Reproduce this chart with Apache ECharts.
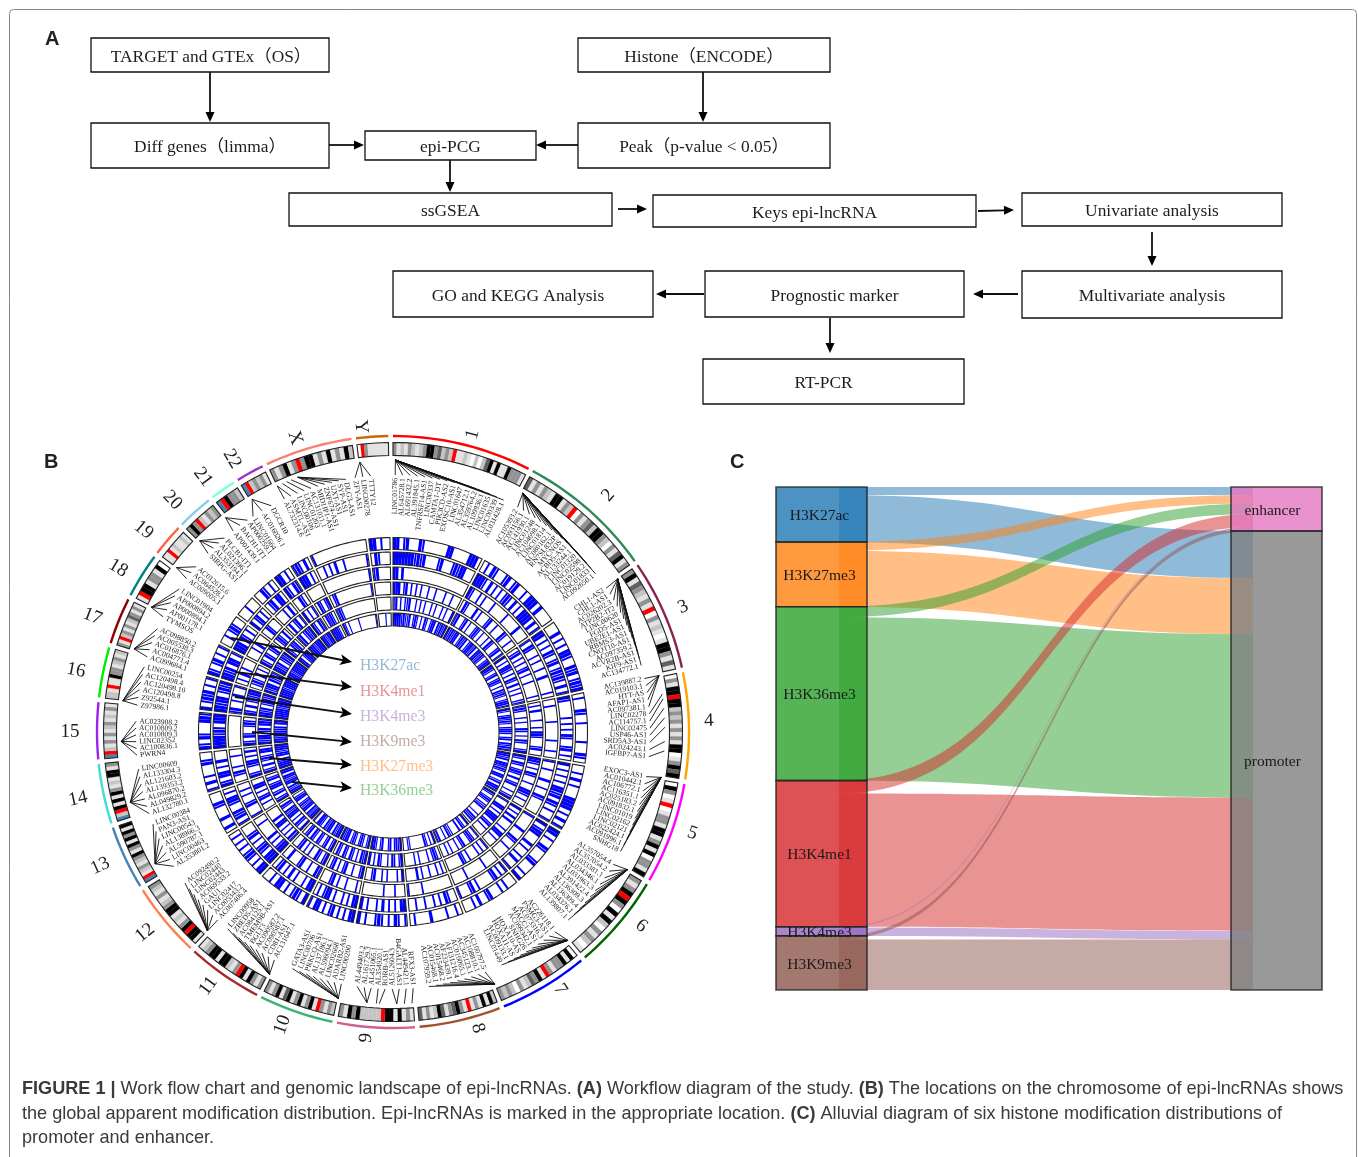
<!DOCTYPE html>
<html><head><meta charset="utf-8"><style>html,body{margin:0;padding:0;background:#fff}#c{width:1358px;height:1157px}</style>
<script src="https://cdn.jsdelivr.net/npm/echarts@6/dist/echarts.min.js"></script></head><body><div id="c"></div>
<script>
// ---------- Panel A ----------
const flowSteps = ['TARGET and GTEx（OS）','Histone（ENCODE）','Diff genes（limma）','epi-PCG','Peak（p-value < 0.05）','ssGSEA','Keys epi-lncRNA','Univariate analysis','GO and KEGG Analysis','Prognostic marker','Multivariate analysis','RT-PCR'];
// ---------- Panel B ----------
const chromNames = ['1','2','3','4','5','6','7','8','9','10','11','12','13','14','15','16','17','18','19','20','21','22','X','Y'];
const chromSizes = [248,242,198,190,181,170,159,145,138,133,135,133,114,107,101,90,83,80,58,64,46,50,156,57];
const chromBands = ['3121321235534232R1121020245151153331','413132155132R03134255320314513','351432131R0312101553141','03155R5523231313155013545','05301R01331551351503315','3135R53051520313201','05153313R153421302323','2515131R1354314521314','1315155R2222253513','2313R15315315415313','313515R31255155321','155R53121553213123','BR1231235135153515','B2R5151531215513','BR2131312312131','221R1153312312','31R23131243131','1R55133150','11R121121','353R21323','BR5332','BR23231','313513R355131513152','0R3111111'];
const trackNames = ['H3K27ac','H3K4me1','H3K4me3','H3K9me3','H3K27me3','H3K36me3'];
const trackH3K27ac = ['##.|#...#|.......##.....###.','.|.#|..|#.|#..|.###.#....','...#.|.|.##|..#|#.|#|#','.|...#|..|.....|...#|.','..|.#.|...####.|.#.|','##.|..#|...|#...|.#','...|.|...#|..#.|...','.|..|....#....|.','|.|#.|.|#|..|.#','##.|.|.#|.|.##.|','#.|#|.|.##.|..','##.|.|#|.|.|.|.','.#..#...|#...','|.#.|...#|..','#|.#|...##|','#.|#|#.|.|','#|.|#.|.|','..|.|#|..','...|...','..#|.|.','##.|.','|#|.#.','|.................','##.|..'];
const trackH3K4me1 = ['#######|#|#....|#...|#|##...','###|.#.|.|.|#|.#.|.####.#.|','##.|.|.#|.|#.|#|#|.#.|','#|.....|.|.|.#|..|#.|.','#.|.|.|.##|#.#|.|..|','#.|##...#.|..|.#..|','|.|.#|.....|.#|...|','..|#.|.|..|..|..','##.|.|.#.|..|.#','##.|.|..|.##|.|.','##.|..|.#.|.#|.','###.|#|.|.#|...','|.#|#..|##.|.','#|.##.|.#...','####|#|.###','##|##.|#|#','##|#.##.|','###.#|.|.','#.|#.|.','.|#.##.','#|.#|','###.|.','..|.|.#..|.......|','.#|...'];
const trackH3K4me3 = ['##.#........................','#|..|.|...|.....|.....#....','|.#|..|.|..|..#.....|.','..|.....|......|...|..','|..|...#..|..#|.....','|.....#...#|..|....','.....|.......|.....','..........|....|','...|...|.......','.|...|..|.#|...','|#..|..#|...#..','##|.|.#.....|..','|...#|..|.|..','..|#.|...|..','...........','|#..|.#..|','.|.#.|...','...|.#...','..#|...','...|.#.','..#|.','......','..................|','|#....'];
const trackH3K9me3 = ['###.|#.|.|.|..|..|...|..|...','.#|...#.|...|#..|...#|..|..','.|#.|.|.|#.|..|.....|.','.|.#...|..|.##|...|#..','##|.|.#|..|..##|.|..','#.|.#.#...|.##.|...','|.|.|...|.|#......','.|.|..|..|.#....','#.|...|.|..#|..','#|..|..#|.|.#|.','#|.|#..|.|.#|..','|#.|.|.##.#....','..|.#|.|.##..','#|..|##.|.#.','#|.#|..|#|.','#|.#.|#|##','.|#|.#.|.','#|.#|.|#.','.|#|.#.','.#.|#.|','#.|.|','.#|.|#','.|#...............|','......'];
const trackH3K27me3 = ['|#.|.||#..|.|.|..|.|..|.|..#','|#..|#.|..|#|.|..|.#|..|#.|','#.|.##|.|.#|.#.|.|..||','|#|..|.|..#|.|.#|..|#','#|.#|.|#|.#.|#..|.|#','|..##.|.###.|#.|...','|.|#|..#|.|..|.|..','.|#|.|...|.|....','#|.|#.|..|#.|.#','#|#.|.|#.|#.|#.','#|.#|.|#.|#.#|.','#.|#.|.##|#.|#.','#|.#|.##|.#|.','#|.#.|#|.##.','#|##.|#.##|','##|#.|##|#','#|##.#|#|','##|#.|#|#','#|.#|#.','|#.|#|#','#|.#|','.#|#|.','|#|...............','......'];
const trackH3K36me3 = ['####|#||#.|#|.|.#|.|##.#|#|#','#|#|##.|#|#.|##|#.##|#|.|##','##|.|#.|#|.|.#|#|.|##|','#|.|#|#|.|##|.|#.#|#|','##|#.##|#|.##.|#.##|','#|.|#|.||#...|.#|#.','#.|#.#...||#.|..#|','#.|.|#.......||..','#|#|.#|..#|.|##','#|.|#|.|#|.##|#','##|#.##|#.|##.|','##|#.##|#|.##|.','##|#.##|##.##','###|#.##|###','##|###|#.##','#####|####','####|####','###|#####','##.|###','###|###','##|##','####|.','#|.|.....|.........|','...|..'];
const trackHits = [trackH3K27ac,trackH3K4me1,trackH3K4me3,trackH3K9me3,trackH3K27me3,trackH3K36me3];
const geneLabels = [
['LINC01786','AL645728.1','AL691432.2','AL391845.1','TNFRSF14-AS1','LINC00337','CAMTA1-DT','PIK3CD-AS2','EXOSC10-AS1','LINC01647','AL354712.1','AL359764.2','AL109936.1','LINC01635','LINC00339','AL031428.1'],
['AC105393.2','AC093156.1','AC141930.1','LINC01248','AC104698.1','LINC01814','AC080162.1','RN7SL832P','MYCNOS','ACBD5-AS1','AL133244.1','LINC01320','LINC02598','AC019129.2','LINC01833','AC092650.1'],
['CHL1-AS2','CHL1-AS1','AC026202.3','ATP2B2-IT2','LINC00620','FGD5-AS1','UBE2E1-AS1','RBMS3-AS1','CNOT10-AS1','AC097359.2','ACVR2B-AS1','KIF9-AS1','AC134772.1'],
['AC139887.2','AC019103.1','HTT-AS','AFAP1-AS1','AC097381.1','LINC02278','AC114757.1','LINC02475','USP46-AS1','SRD5A3-AS1','AC024243.1','IGFBP7-AS1'],
['EXOC3-AS1','AC010442.1','AC106772.1','AC116351.1','AC025183.2','AC091832.1','LINC01019','LINC02162','LINC02121','AC022424.1','AC091996.1','SNHG18'],
['AL357054.4','AL357054.2','AL033381.1','AL034346.1','AL031963.3','AL391422.4','AL136309.3','AL136309.4','AL034376.1','AL139807.1'],
['AC226118.1','PSMG3-AS1','AC073316.3','MACC1-AS1','AC099342.1','SNHG26','HOXA10-AS','HOXA11-AS','AC009133.1','LINC01449'],
['AC100797.5','AC108810.1','AC345123.1','AC016065.1','AF131216.4','AF233439.1','AC015468.2','AC015468.1','AC107959.2'],
['RFX3-AS1','AL449421.1','B4GALT1-AS1','AL512604.3','RORB-AS1','AL354920.1','AL451065.1','AL161729.3','AL449403.2'],
['LINC00200','ADARB2-AS1','LINC02668','AL596094.1','AL137186.1','PRKCQ-AS1','LINC00706','GATA3-AS1'],
['AC131647.1','CD81-AS1','AC090587.1','AC090587.2','BGLT3','TMEM9B-AS1','AC084125.1','ZBED5-AS1','LINC00958'],
['AC007406.4','AC005343.2','LINC02417','GAU1','AC069533.2','LINC02443','LINC02440','AC092490.2'],
['AL353801.2','LINC00463','AL590787.1','AL138966.3','LINC00543','PAN3-AS1','LINC00384'],
['AL132780.1','AL049829.2','AL096870.2','AL139353.2','AL121603.2','AL133304.3','LINC00609'],
['PWRN4','AC100836.1','LINC02352','AC010809.3','AC010809.2','AC023908.2'],
['Z97986.1','Z92544.1','AC120498.8','AC120498.10','AC120498.4','LINC00254'],
['AC099684.1','AC004771.4','AC016876.1','AC005538.3','AC098850.2'],
['TYMSOS','AP001178.1','AP000894.1','AP000894.2','LINC01904'],
['AC009005.1','AC064528.1','AC012615.6'],
['SIRPG-AS1','AL353194.1','AL021396.1','PLCB1-IT1'],
['AP001439.1','BACH1-IT1','AP000259.1'],
['LINC01664','AC016026.1','DGCR10'],
['AL732314.6','ASMTL-AS1','LINC00106','LINC01203','AC131011.1','MID1IP1-AS1','ZNF674-AS1','UXT-AS1','SYP-AS1','DLG3-AS1'],
['ZFY-AS1','LINC00278','TTTY12']];
// genomic anchor angle of each label's leader (one value = shared by the chromosome's labels)
const geneAnchors = [[0.5],[28.5],[55.7],[78,78,78,78,78,82,83,85,87,89,92,94],[99.6],[120.4],[140],[158],[176,177.6,179.2,179.2,182.9,183.5,185.5,185.5,185.5],[191.6],[207],[223],[241],[255],[268],[276.6],[287.8],[297.3],[307.2],[314.7],[322],[328.8],[334.8,334.8,336,337,338,339.5,339.5,339.5,339.5,339.5],[353]];
// ---------- Panel C ----------
const histoneNames = ['H3K27ac','H3K27me3','H3K36me3','H3K4me1','H3K4me3','H3K9me3'];
const enhancerCounts = [8,8.5,10.5,13,0.5,3.5];
const promoterCounts = [47,56,163,133,8.5,50.5];
const legendOrder = ['H3K27ac','H3K4me1','H3K4me3','H3K9me3','H3K27me3','H3K36me3'];

// ---------- layout and style ----------
const SERIF='"Liberation Serif","Noto Sans CJK SC",serif';
const flowBoxes=[[91,38,329,72],[578,38,830,72],[91,123,329,168],[365,131,536,160],[578,123,830,168],[289,193,612,226],[653,195,976,227],[1022,193,1282,226],[393,271,653,317],[705,271,964,317],[1022,271,1282,318],[703,359,964,404]];
const flowTextDx=[1,0,0,0,0,0,0,0,-5,0,0,-10];
const flowArrows=[[210,72,210,122],[703,72,703,122],[329,145,364,145],[578,145,536,145],[450,160,450,192],[618,209,647,209],[978,211,1014,210],[1152,232,1152,266],[1018,294,973,294],[704,294,656,294],[830,318,830,353]];
const ringArrows=[[231,638,352,662],[235,672,352,687],[235,697,352,714],[252,732,352,742],[269,758,352,765],[292,782,352,788]];
const legendY=[666,692,717,742,767,791];
const legendColors=['#8fbbd9','#eb9394','#c9b3de','#c5aba5','#ffbf87','#95cf95'];
const arcColors=['#ff0000','#2e8b57','#8b2252','#ffa500','#ff00ff','#006400','#0000ff','#a0522d','#cd6090','#3cb371','#a52a2a','#ff7f50','#4682b4','#40e0d0','#a020f0','#00ee00','#8b0000','#008080','#ff6347','#87ceeb','#7fffd4','#9932cc','#fa8072','#cd6600'];
const bandFill={'0':'#ffffff','1':'#e2e2e2','2':'#c4c4c4','3':'#929292','4':'#606060','5':'#000000','R':'#ff0000','B':'#4682b4'};
const nodeColors=['#1f77b4','#ff7f0e','#2ca02c','#d62728','#9467bd','#8c564b','#e377c2','#7f7f7f'];
const labelAngles=[[0.5,25.5],[29,52],[56,75],[78,95.5],[100,117.7],[121,137],[141,155],[159,172],[175.5,188],[191.6,203],[207.5,220],[223,234],[238.5,249],[251.5,261.7],[264.8,272.4],[276,284.7],[287,293.7],[296.6,303.8],[306.6,310],[314,319],[321.5,325.5],[327,331.7],[335,349.4],[351.5,355]];
const namePlace=[[308,15],[320,42.3],[316,66.7],[316,88],[316,108.7],[315,128],[307,147],[308,164],[307,185],[313,200.7],[314,216],[319,231],[322,245.4],[322,258],[323,270],[323,281],[322,291],[320,300.8],[321,309],[320,316.4],[318,323.3],[317,329.5],[310,341.6],[307,354]];
const GAP=0.9;
const genome=chromSizes.reduce((a,b)=>a+b,0);
const perMb=(360-GAP*24)/genome;
const chromStart=[];chromSizes.reduce((s,v,i)=>{chromStart[i]=s;return s+v*perMb+GAP;},0);
const spanOf=i=>chromSizes[i]*perMb;
const trackR=[[182.5,194.5],[167.5,180],[152.5,165],[137.5,150],[122,135],[106,119]];

function sector(api,r0,r1,a0,a1){
  const n=Math.max(1,Math.ceil((a1-a0)/1.5)),pts=[];
  for(let k=0;k<=n;k++)pts.push(api.coord([r1,a0+(a1-a0)*k/n]));
  for(let k=n;k>=0;k--)pts.push(api.coord([r0,a0+(a1-a0)*k/n]));
  return pts;
}
function polarLayer(records,z,draw){
  return {type:'custom',coordinateSystem:'polar',polarIndex:0,silent:true,animation:false,z,
    data:records.map(r=>[r.r,r.a]),renderItem:(p,api)=>draw(records[p.dataIndex],api)};
}
function flatLayer(records,z,draw){
  return {type:'custom',coordinateSystem:'cartesian2d',silent:true,animation:false,z,clip:false,
    data:records.map((r,i)=>[i,i]),renderItem:(p,api)=>draw(records[p.dataIndex],api)};
}
function arrowShape(api,a,headL,headW,notch){
  const p0=api.coord([a[0],a[1]]),p1=api.coord([a[2],a[3]]);
  const dx=p1[0]-p0[0],dy=p1[1]-p0[1],L=Math.hypot(dx,dy),ux=dx/L,uy=dy/L;
  const bx=p1[0]-ux*headL,by=p1[1]-uy*headL,nx=p1[0]-ux*headL*notch,ny=p1[1]-uy*headL*notch;
  return {type:'group',children:[
    {type:'line',shape:{x1:p0[0],y1:p0[1],x2:nx,y2:ny},style:{stroke:'#111',lineWidth:1.8}},
    {type:'polygon',shape:{points:[p1,[bx-uy*headW/2,by+ux*headW/2],[nx,ny],[bx+uy*headW/2,by-ux*headW/2]]},style:{fill:'#000'}}]};
}

// records
const bandRec=[],frameRec=[],hitRec=[],arcRec=[],nameRec=[],labelRec=[],leaderRec=[];
chromNames.forEach((nm,i)=>{
  const st=chromStart[i],sp=spanOf(i),b=chromBands[i];
  for(let k=0;k<b.length;k++)bandRec.push({r:283,a:st+sp*(k+.5)/b.length,a0:st+sp*k/b.length,a1:st+sp*(k+1)/b.length,c:bandFill[b[k]]});
  frameRec.push({r:283,a:st,a0:st,a1:st+sp,r0:276.5,r1:289.5,w:1.1});
  arcRec.push({r:296,a:st,a0:st,a1:st+sp,c:arcColors[i]});
  nameRec.push({r:namePlace[i][0],a:namePlace[i][1],t:nm});
  trackR.forEach((rr,t)=>{
    frameRec.push({r:rr[0],a:st,a0:st,a1:st+sp,r0:rr[0],r1:rr[1],w:1.1});
    const s=trackHits[t][i];
    for(let k=0;k<s.length;k++){
      if(s[k]==='.')continue;
      const w=sp/s.length,c=st+w*(k+.5),hw=s[k]==='#'?w/2:0.3;
      hitRec.push({r:rr[0],a:c,a0:c-hw,a1:c+hw,r0:rr[0],r1:rr[1]});
    }
  });
  const L=geneLabels[i],la=labelAngles[i],A=geneAnchors[i];
  L.forEach((t,k)=>{
    const th=L.length>1?la[0]+(la[1]-la[0])*k/(L.length-1):la[0];
    labelRec.push({r:254,a:th,t});
    leaderRec.push({r:272,a:A.length>1?A[k]:A[0],la:th});
  });
});
function rotFor(th){return (th<180?th-90:th-270)*Math.PI/180*-1;}

const series=[
 // Panel A boxes
 flatLayer(flowSteps.map((t,i)=>({t,b:flowBoxes[i],dx:flowTextDx[i]})),5,(d,api)=>{
   const p=api.coord([d.b[0],d.b[1]]),q=api.coord([d.b[2],d.b[3]]);
   return {type:'group',children:[
     {type:'rect',shape:{x:p[0],y:p[1],width:q[0]-p[0],height:q[1]-p[1]},style:{fill:'#fff',stroke:'#111',lineWidth:1.3}},
     {type:'text',x:(p[0]+q[0])/2+d.dx,y:(p[1]+q[1])/2+2,style:{text:d.t,font:'17.4px '+SERIF,fill:'#1c1c1c',align:'center',verticalAlign:'middle'}}]};
 }),
 flatLayer(flowArrows,6,(a,api)=>arrowShape(api,a,10,9,1)),
 // Panel B
 polarLayer(arcRec,5,(d,api)=>({type:'polygon',shape:{points:sector(api,294.8,297.2,d.a0,d.a1)},style:{fill:d.c}})),
 polarLayer(bandRec,5,(d,api)=>({type:'polygon',shape:{points:sector(api,276.5,289.5,d.a0,d.a1)},style:{fill:d.c,stroke:d.c,lineWidth:.2}})),
 polarLayer(hitRec,5,(d,api)=>({type:'polygon',shape:{points:sector(api,d.r0,d.r1,d.a0,d.a1)},style:{fill:'#0000ff'}})),
 polarLayer(frameRec,6,(d,api)=>({type:'polygon',shape:{points:sector(api,d.r0,d.r1,d.a0,d.a1)},style:{fill:'none',stroke:'#222',lineWidth:d.w}})),
 polarLayer(leaderRec,6,(d,api)=>{const p=api.coord([272,d.a]),q=api.coord([257,d.la]);
   return {type:'line',shape:{x1:p[0],y1:p[1],x2:q[0],y2:q[1]},style:{stroke:'#111',lineWidth:.9}};}),
 polarLayer(labelRec,6,(d,api)=>{const p=api.coord([254,d.a]);
   return {type:'text',x:p[0],y:p[1],rotation:rotFor(d.a),style:{text:d.t,font:'7.5px '+SERIF,fill:'#222',align:d.a<180?'right':'left',verticalAlign:'middle'}};}),
 polarLayer(nameRec,6,(d,api)=>{const p=api.coord([d.r,d.a]);
   return {type:'text',x:p[0],y:p[1],rotation:rotFor(d.a),style:{text:d.t,font:'19px '+SERIF,fill:'#222',align:'center',verticalAlign:'middle'}};}),
 flatLayer(ringArrows,7,(a,api)=>arrowShape(api,a,12,11,.75)),
 flatLayer(legendOrder.map((t,i)=>({t,y:legendY[i],c:legendColors[i]})),7,(d,api)=>{const p=api.coord([360,d.y]);
   return {type:'text',x:p[0],y:p[1],style:{text:d.t,font:'15.7px '+SERIF,fill:d.c,align:'left',verticalAlign:'middle'}};}),
];
// Panel C: three registered sankey layers from the same counts
const nodeNames=histoneNames.concat(['enhancer','promoter']);
const sankeyNodes=nodeNames.map((name,i)=>({name,itemStyle:{color:nodeColors[i]}}));
const sankeyLinks=[];
histoneNames.forEach((h,i)=>{sankeyLinks.push({source:h,target:'enhancer',value:enhancerCounts[i]});sankeyLinks.push({source:h,target:'promoter',value:promoterCounts[i]});});
const sk={type:'sankey',nodeGap:0,layoutIterations:0,nodeAlign:'justify',draggable:false,silent:true,animation:false,emphasis:{disabled:true},data:sankeyNodes,links:sankeyLinks,top:487,height:503};
series.push(
 Object.assign({},sk,{z:3,left:839,width:414,nodeWidth:0.01,label:{show:false},
   itemStyle:{opacity:0,borderWidth:0},lineStyle:{color:'source',opacity:.5,curveness:.5}}),
 Object.assign({},sk,{z:4,left:776,width:546,nodeWidth:91,label:{show:false},
   itemStyle:{opacity:.8,borderColor:'#222',borderWidth:1.6},lineStyle:{opacity:0}}),
 Object.assign({},sk,{z:5,left:776,width:546,nodeWidth:91,
   data:nodeNames.map((name,i)=>({name,itemStyle:{color:'transparent'},label:{offset:[i<6?-2:-4,1.5]}})),
   label:{show:true,position:'inside',color:'#1a1a1a',fontFamily:SERIF,fontSize:15.5},
   itemStyle:{opacity:0,borderWidth:0},lineStyle:{opacity:0}})
);
const chart=echarts.init(document.getElementById('c'),null,{renderer:'canvas'});
const CAP='18.1px "Liberation Sans"',CAPB='bold 18.1px "Liberation Sans"',CAPC='#3a3a3a';
chart.setOption({
 animation:false,backgroundColor:'#fff',
 grid:{left:0,top:0,width:1358,height:1157,show:false},
 xAxis:{type:'value',min:0,max:1358,show:false},
 yAxis:{type:'value',min:0,max:1157,inverse:true,show:false},
 polar:{center:[393,732],radius:340},
 radiusAxis:{type:'value',min:0,max:340,show:false},
 angleAxis:{type:'value',min:0,max:360,startAngle:90,clockwise:true,show:false},
 tooltip:{show:false},
 graphic:[
  {type:'rect',z:1,shape:{x:9.5,y:9.5,width:1347,height:1170,r:4},style:{fill:'#fff',stroke:'#888',lineWidth:1}},
  {type:'text',z:10,style:{x:45,y:29,text:'A',font:'bold 20px "Liberation Sans"',fill:'#222'}},
  {type:'text',z:10,style:{x:44,y:452,text:'B',font:'bold 20px "Liberation Sans"',fill:'#222'}},
  {type:'text',z:10,style:{x:730,y:452,text:'C',font:'bold 20px "Liberation Sans"',fill:'#222'}},
  {type:'text',z:10,style:{x:22,y:1079,font:CAP,fill:CAPC,lineHeight:20,
    text:'{b|FIGURE 1 |} Work flow chart and genomic landscape of epi-lncRNAs. {b|(A)} Workflow diagram of the study. {b|(B)} The locations on the chromosome of epi-lncRNAs shows',
    rich:{b:{font:CAPB,fill:CAPC}}}},
  {type:'text',z:10,style:{x:22,y:1104,font:CAP,fill:CAPC,lineHeight:20,
    text:'the global apparent modification distribution. Epi-lncRNAs is marked in the appropriate location. {b|(C)} Alluvial diagram of six histone modification distributions of',
    rich:{b:{font:CAPB,fill:CAPC}}}},
  {type:'text',z:10,style:{x:22,y:1129,text:'promoter and enhancer.',font:CAP,fill:CAPC}}
 ],
 series
});
</script></body></html>
